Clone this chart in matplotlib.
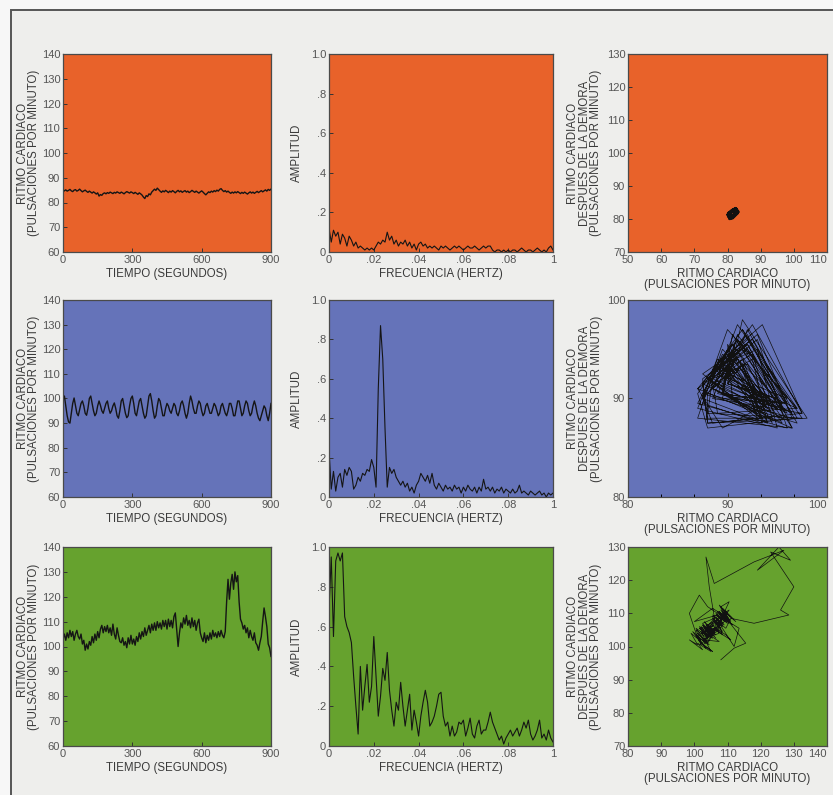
import numpy as np
import matplotlib
matplotlib.use("Agg")
import matplotlib.pyplot as plt
from matplotlib.patches import Rectangle
from matplotlib.ticker import AutoMinorLocator

plt.rcParams['font.family'] = ['Liberation Sans', 'DejaVu Sans']

# ---- data ----
# heart rate, sampled every 6 s from 0 to 900 s
t_sec = np.arange(0, 901, 6)

orange_hr = [
    84.2, 84.8, 85.1, 84.6, 84.9, 85.3, 84.7, 84.4, 85.0, 85.2, 84.6, 84.9, 85.4,
    84.8, 84.3, 84.7, 85.0, 84.5, 84.1, 84.6, 84.2, 83.8, 84.3, 83.9, 83.4, 83.9,
    82.6, 83.2, 82.9, 83.6, 83.9, 83.5, 84.0, 83.7, 84.2, 83.9, 83.6, 84.1, 83.8,
    84.3, 84.0, 83.7, 84.2, 83.9, 83.5, 84.0, 84.4, 84.1, 83.8, 84.3, 84.0,
    83.6, 84.1, 83.7, 83.3, 83.9, 83.5, 83.0, 82.2, 81.6, 82.8, 82.4, 83.5, 83.1,
    84.2, 84.8, 85.4, 84.9, 85.8, 85.2, 84.6, 84.1, 84.7, 84.3, 84.9, 84.5,
    84.0, 84.6, 84.2, 84.8, 84.4, 83.9, 84.5, 84.9, 84.3, 84.7, 84.1, 84.5, 84.8,
    84.2, 84.6, 84.0, 84.4, 84.9, 84.5, 84.1, 84.6, 84.2, 83.8, 84.3, 84.7,
    84.2, 83.6, 83.1, 83.7, 84.3, 84.0, 84.6, 84.2, 84.8, 84.4, 85.0, 84.6, 85.3,
    85.6, 84.9, 84.4, 84.8, 84.2, 84.6, 84.1, 83.7, 84.2, 83.8, 84.3, 83.9,
    84.4, 84.0, 83.6, 84.1, 83.7, 84.2, 83.8, 83.4, 83.9, 84.3, 83.8, 84.2, 83.7,
    84.1, 84.5, 84.0, 84.4, 84.8, 84.3, 84.7, 85.1, 84.6, 85.3, 84.9, 85.4,
]

blue_hr = [
    99.5, 101.0, 97.0, 93.0, 90.5, 90.0, 94.0,
    98.0, 100.2, 97.0, 94.0, 93.0, 95.5, 98.0, 99.0,
    97.0, 94.0, 93.2, 96.0, 100.0, 101.0, 98.0, 95.0,
    93.0, 94.0, 97.0, 99.0, 97.2, 95.0, 94.0, 96.0,
    98.0, 99.0, 96.0, 94.0, 95.0, 97.0, 98.2, 96.0,
    93.0, 92.0, 95.0, 99.0, 100.0, 97.0, 94.0, 92.2,
    93.0, 97.0, 100.0, 101.0, 98.0, 94.0, 93.0, 96.0,
    99.0, 100.0, 97.0, 94.0, 92.0, 93.0, 97.0, 101.0,
    102.0, 99.0, 95.0, 92.0, 93.0, 97.0, 100.0, 99.0,
    96.0, 93.0, 93.0, 96.0, 98.0, 97.0, 95.0, 94.0,
    96.0, 98.0, 97.0, 94.0, 93.0, 95.0, 98.0, 99.0,
    97.0, 94.0, 92.0, 94.0, 98.0, 101.0, 99.0, 96.0,
    94.0, 94.0, 97.0, 99.0, 98.0, 95.0, 93.0, 94.0,
    97.0, 98.0, 96.0, 94.0, 94.0, 96.0, 98.0, 97.0,
    95.0, 93.0, 94.0, 97.0, 98.0, 96.0, 94.0, 93.0,
    95.0, 98.0, 98.0, 96.0, 93.0, 93.0, 96.0, 99.0,
    99.0, 96.0, 93.0, 94.0, 97.0, 99.0, 98.0, 95.0,
    93.0, 94.0, 97.0, 99.0, 97.0, 94.0, 92.0, 91.0,
    93.0, 95.0, 97.0, 96.0, 93.0, 91.0, 94.0, 98.0,
]

green_hr = [
    103.0, 105.0, 102.5, 105.5, 103.5, 106.5, 104.0, 106.0, 102.5,
    105.0, 106.5, 104.0, 103.0, 105.0, 101.0, 102.5, 98.5, 101.0,
    99.0, 102.0, 100.5, 104.0, 101.5, 105.0, 102.5, 106.0,
    103.5, 107.0, 108.5, 105.5, 108.0, 106.0, 108.5, 105.5,
    107.5, 104.5, 109.0, 105.0, 103.0, 107.5, 104.5, 102.0,
    101.5, 103.5, 100.5, 102.0, 99.5, 103.5, 101.0, 104.5,
    101.0, 103.0, 100.5, 104.0, 102.0, 105.5, 103.0, 106.0,
    104.0, 107.5, 104.5, 106.5, 108.5, 105.5, 109.0, 106.5,
    109.5, 106.5, 110.0, 107.5, 109.5, 107.0, 110.5, 108.0,
    110.5, 107.0, 111.0, 108.0, 110.5, 107.5, 112.0, 113.5,
    107.0, 100.0, 105.5, 109.5, 107.5, 111.5, 109.0, 112.5,
    108.5, 110.5, 107.5, 111.5, 108.0, 110.5, 106.5, 109.5,
    111.0, 105.5, 103.5, 102.0, 105.5, 101.5, 104.5, 102.5,
    105.5, 103.0, 106.5, 104.0, 105.5, 103.5, 106.0, 104.0,
    106.5, 104.5, 103.5, 106.0, 118.0, 127.0, 119.0, 125.5,
    129.0, 123.0, 130.0, 126.0, 128.5, 118.0, 111.0, 109.5,
    107.0, 108.5, 105.5, 107.5, 103.5, 106.5, 104.0, 102.5,
    105.5, 101.5, 100.5, 98.5, 101.5, 104.0, 110.0, 115.5,
    112.0, 108.0, 101.0, 99.5, 96.0,
]

# spectra, amplitude every 0.001 Hz from 0 to 0.1 Hz
freq_hz = np.round(np.arange(0, 0.1005, 0.001), 3)

orange_amp = [
    0.12, 0.05, 0.11, 0.08, 0.10, 0.04, 0.09, 0.07, 0.03, 0.08,
    0.06, 0.03, 0.05, 0.02, 0.03, 0.02, 0.01, 0.02, 0.01, 0.02,
    0.01, 0.03, 0.05, 0.04, 0.06, 0.05, 0.10, 0.06, 0.08, 0.04,
    0.06, 0.03, 0.05, 0.04, 0.06, 0.03, 0.05, 0.02, 0.04, 0.01,
    0.04, 0.05, 0.03, 0.04, 0.02, 0.03, 0.02, 0.03, 0.02, 0.01,
    0.03, 0.02, 0.03, 0.02, 0.01, 0.02, 0.03, 0.02, 0.03, 0.02,
    0.01, 0.02, 0.03, 0.02, 0.02, 0.03, 0.02, 0.01, 0.02, 0.03,
    0.02, 0.03, 0.03, 0.01, 0.00, 0.01, 0.01, 0.00, 0.01, 0.00,
    0.01, 0.00, 0.01, 0.01, 0.00, 0.01, 0.02, 0.01, 0.00, 0.01,
    0.01, 0.00, 0.01, 0.02, 0.01, 0.00, 0.01, 0.00, 0.02, 0.03,
    0.01,
]

blue_amp = [
    0.24, 0.04, 0.13, 0.03, 0.10, 0.12, 0.05, 0.14, 0.11, 0.15,
    0.13, 0.04, 0.06, 0.10, 0.08, 0.12, 0.11, 0.14, 0.13, 0.19,
    0.15, 0.05, 0.55, 0.87, 0.70, 0.35, 0.05, 0.15, 0.12, 0.14,
    0.10, 0.08, 0.06, 0.08, 0.05, 0.07, 0.03, 0.05, 0.02, 0.06,
    0.08, 0.12, 0.10, 0.08, 0.11, 0.07, 0.12, 0.06, 0.04, 0.07,
    0.05, 0.03, 0.06, 0.04, 0.05, 0.03, 0.06, 0.04, 0.05, 0.02,
    0.05, 0.03, 0.06, 0.04, 0.03, 0.05, 0.02, 0.05, 0.03, 0.09,
    0.04, 0.05, 0.03, 0.05, 0.02, 0.04, 0.03, 0.05, 0.02, 0.04,
    0.03, 0.02, 0.04, 0.02, 0.03, 0.06, 0.02, 0.03, 0.02, 0.01,
    0.03, 0.02, 0.01, 0.02, 0.03, 0.01, 0.02, 0.00, 0.02, 0.01,
    0.02,
]

green_amp = [
    0.68, 0.95, 0.55, 0.93, 0.97, 0.93, 0.97, 0.65, 0.60, 0.57,
    0.52, 0.35, 0.20, 0.06, 0.40, 0.18, 0.30, 0.41, 0.22, 0.30,
    0.55, 0.35, 0.15, 0.25, 0.39, 0.33, 0.47, 0.28, 0.18, 0.10,
    0.22, 0.18, 0.32, 0.20, 0.10, 0.18, 0.26, 0.08, 0.18, 0.12,
    0.05, 0.15, 0.22, 0.28, 0.22, 0.10, 0.12, 0.15, 0.20, 0.26,
    0.27, 0.15, 0.10, 0.12, 0.05, 0.10, 0.05, 0.07, 0.12, 0.11,
    0.13, 0.05, 0.09, 0.14, 0.06, 0.04, 0.10, 0.13, 0.06, 0.08,
    0.08, 0.12, 0.17, 0.12, 0.09, 0.06, 0.03, 0.05, 0.01, 0.04,
    0.06, 0.08, 0.05, 0.07, 0.09, 0.05, 0.08, 0.12, 0.09, 0.13,
    0.06, 0.03, 0.05, 0.08, 0.13, 0.04, 0.06, 0.03, 0.08, 0.04,
    0.02,
]

# heart rate segments used for the delay plots
orange_delay_hr = [
    81.2, 82.4, 81.5, 80.2, 81.8, 83.0, 81.9, 80.6, 80.1, 81.4, 82.6, 83.2,
    82.0, 81.0, 80.4, 81.6, 82.8, 81.7, 80.5, 81.2, 82.4, 83.3, 82.2, 81.0,
    80.3, 81.1, 82.2, 82.9, 81.6, 80.5, 81.5, 82.6, 81.8, 80.7, 80.0, 81.3,
    82.4, 83.1, 82.1, 80.9, 80.4, 81.7, 82.8, 81.9, 80.8, 80.2, 81.4, 82.6,
    83.0, 81.8, 80.6, 81.5, 82.7, 81.7, 80.5, 81.3, 82.3, 82.9, 81.6, 81.2,
]

blue_delay_hr = [
    91.5, 97.0, 87.5, 90.5, 95.5, 88.0, 92.0, 96.5, 87.0, 88.0,
    91.0, 94.0, 89.0, 92.5, 97.5, 88.5, 90.0, 93.5, 88.0, 87.5,
    91.5, 95.0, 89.5, 93.0, 96.0, 87.0, 89.5, 94.5, 88.5,
    91.0, 93.0, 90.0, 92.0, 97.0, 88.0, 87.0, 90.5, 95.5, 89.0,
    91.5, 94.0, 87.5, 92.5, 96.0, 89.5, 90.0, 93.0, 88.5,
    91.0, 97.5, 88.0, 88.5, 92.0, 95.0, 90.0, 91.5, 93.5, 87.5,
    89.5, 95.0, 89.0, 93.0, 96.5, 88.0, 90.5, 94.0, 89.5, 87.0,
    91.0, 96.0, 88.5, 92.0, 93.5, 90.5, 90.0, 95.5, 87.5,
    91.5, 97.0, 89.0, 92.5, 94.5, 88.0, 88.0, 90.5, 93.0, 89.5,
    91.0, 96.5, 88.5, 93.0, 95.0, 87.0, 89.0, 94.0, 90.0,
    91.5, 98.0, 88.0, 87.5, 92.0, 95.5, 89.0, 90.5, 93.5, 88.5,
    91.0, 96.0, 90.0, 92.5, 94.0, 87.5, 90.0, 97.0, 89.0, 88.5,
    91.5, 93.0, 88.0, 92.0, 95.5, 89.5, 90.5, 96.5, 87.0,
    91.0, 94.0, 89.0, 93.5, 97.5, 88.5, 87.5, 90.0, 95.0, 90.0,
    91.5, 93.5, 88.0, 92.0, 96.0, 89.5, 90.5, 94.5, 87.5,
]

delay_lag = [1, 1, 3]

hr_label = "RITMO CARDIACO\n(PULSACIONES POR MINUTO)"
delay_label = "RITMO CARDIACO\nDESPUES DE LA DEMORA\n(PULSACIONES POR MINUTO)"

panel_colors = ["#e8622a", "#6573b9", "#66a22e"]

# ---- figure ----
fig = plt.figure(figsize=(8.33, 7.95), dpi=100, facecolor="#f7f7f7")
fig.add_artist(Rectangle((11 / 833, -0.02), 1.0, 1 - 10 / 795 + 0.02,
                         transform=fig.transFigure, facecolor="#eeeeec",
                         edgecolor="#555555", lw=1.4, zorder=-10))

col_x = [(63, 271), (329, 553), (628, 827)]
row_y = [(54, 252), (300, 497), (547, 746)]

label_kw = dict(fontsize=8.3, color="#3a3a3a")


def make_ax(r, c):
    x0, x1 = col_x[c]
    y0, y1 = row_y[r]
    ax = fig.add_axes([x0 / 833, 1 - y1 / 795, (x1 - x0) / 833, (y1 - y0) / 795])
    ax.set_facecolor(panel_colors[r])
    for s in ax.spines.values():
        s.set_color("#4a4a4a")
        s.set_linewidth(0.9)
    ax.tick_params(direction="in", length=3, width=0.7, color="#333333",
                   labelsize=8, labelcolor="#555555", pad=2)
    return ax


series = [orange_hr, blue_hr, green_hr]
amps = [orange_amp, blue_amp, green_amp]
delay_series = [orange_delay_hr, blue_delay_hr, green_hr]
delay_limits = [((50, 110), (70, 130)), ((80, 100), (80, 100)), ((80, 140), (70, 130))]

for r in range(3):
    # time series
    ax = make_ax(r, 0)
    ax.plot(t_sec, series[r], color="#151515", lw=1.0)
    ax.set_xlim(0, 900)
    ax.set_ylim(60, 140)
    ax.set_xticks([0, 300, 600, 900])
    ax.set_yticks(range(60, 141, 10))
    ax.set_xlabel("TIEMPO (SEGUNDOS)", labelpad=2, **label_kw)
    ax.set_ylabel(hr_label, labelpad=1, linespacing=0.95, **label_kw)

    # spectrum
    ax = make_ax(r, 1)
    ax.plot(freq_hz, amps[r], color="#151515", lw=0.8)
    ax.set_xlim(0, 0.1)
    ax.set_ylim(0, 1.0)
    ax.set_xticks([0, 0.02, 0.04, 0.06, 0.08, 0.1])
    ax.set_xticklabels(["0", ".02", ".04", ".06", ".08", "1"])
    ax.set_yticks([0, 0.2, 0.4, 0.6, 0.8, 1.0])
    ax.set_yticklabels(["0", ".2", ".4", ".6", ".8", "1.0"])
    ax.set_xlabel("FRECUENCIA (HERTZ)", labelpad=2, **label_kw)
    ax.set_ylabel("AMPLITUD", labelpad=6, **label_kw)

    # delay plot
    ax = make_ax(r, 2)
    d = np.asarray(delay_series[r])
    lag = delay_lag[r]
    ax.plot(d[:-lag], d[lag:], color="#111111", lw=1.8 if r == 0 else 0.5)
    (xa, xb), (ya, yb) = delay_limits[r]
    ax.set_xlim(xa, xb)
    ax.set_ylim(ya, yb)
    if r == 1:
        ax.set_xticks([80, 90, 100])
        ax.set_yticks([80, 90, 100])
        ax.xaxis.set_minor_locator(AutoMinorLocator(3))
        ax.tick_params(which="minor", direction="in", length=2.5, width=0.7)
    else:
        ax.set_xticks(range(xa, xb + 1, 10))
        ax.set_yticks(range(ya, yb + 1, 10))
    # keep the last x label inside the figure edge
    ax.get_xticklabels()[-1].set_horizontalalignment("right")
    ax.set_xlabel(hr_label, labelpad=2, linespacing=0.95, **label_kw)
    ax.set_ylabel(delay_label, labelpad=3, linespacing=0.95, **label_kw)

fig.savefig("out.png", dpi=100, facecolor=fig.get_facecolor())
